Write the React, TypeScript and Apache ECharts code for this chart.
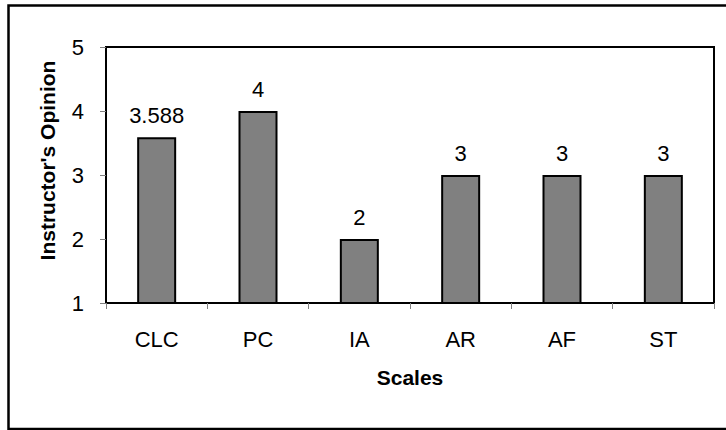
import React, { useEffect, useRef } from "react";
import * as echarts from "echarts";

const categories = ["CLC", "PC", "IA", "AR", "AF", "ST"];
const values = [3.588, 4, 2, 3, 3, 3];
const yMin = 1;
const yMax = 5;
const yInterval = 1;
const xTitle = "Scales";
const yTitle = "Instructor's Opinion";

const FONT = "'Liberation Sans', Arial, sans-serif";

export default function App() {
  const ref = useRef<HTMLDivElement>(null);
  useEffect(() => {
    if (!ref.current) return;
    const chart = echarts.init(ref.current, undefined, { renderer: "svg" });
    chart.setOption({
      animation: false,
      backgroundColor: "#fff",
      textStyle: { fontFamily: FONT },
      grid: {
        left: 106,
        top: 47,
        right: 12,
        bottom: 127,
        show: true,
        borderColor: "#000",
        borderWidth: 2,
        backgroundColor: "transparent",
      },
      xAxis: {
        type: "category",
        data: categories,
        name: xTitle,
        nameLocation: "middle",
        nameGap: 64,
        nameTextStyle: { fontFamily: FONT, fontSize: 21, fontWeight: "bold", color: "#000" },
        axisLine: { lineStyle: { color: "#000", width: 2 } },
        axisTick: { show: true, length: 6, lineStyle: { color: "#808080", width: 1 } },
        axisLabel: { margin: 25, fontFamily: FONT, fontSize: 22, color: "#000" },
      },
      yAxis: {
        type: "value",
        min: yMin,
        max: yMax,
        interval: yInterval,
        axisLine: { show: true, lineStyle: { color: "#000", width: 2 } },
        axisTick: { show: true, length: 6, lineStyle: { color: "#808080", width: 1 } },
        axisLabel: { margin: 22, fontFamily: FONT, fontSize: 22, color: "#000" },
        splitLine: { show: false },
      },
      graphic: [
        {
          type: "rect",
          shape: { x: 8.5, y: 5.5, width: 740, height: 423.5 },
          style: { fill: "none", stroke: "#000", lineWidth: 2.5 },
          silent: true,
        },
        {
          type: "text",
          x: 47.5,
          y: 160.5,
          rotation: Math.PI / 2,
          style: {
            text: yTitle,
            fontFamily: FONT,
            fontSize: 21,
            fontWeight: "bold",
            fill: "#000",
            align: "center",
            verticalAlign: "middle",
          },
        },
      ],
      series: [
        {
          type: "bar",
          data: values,
          barWidth: 39,
          itemStyle: { color: "#808080", borderColor: "#000", borderWidth: 2 },
          label: {
            show: true,
            position: "top",
            distance: 11,
            fontFamily: FONT,
            fontSize: 22,
            color: "#000",
          },
        },
      ],
    });
    return () => chart.dispose();
  }, []);
  return (
    <div
      ref={ref}
      style={{ position: "absolute", left: 0, top: 0, width: 726, height: 430 }}
    />
  );
}
